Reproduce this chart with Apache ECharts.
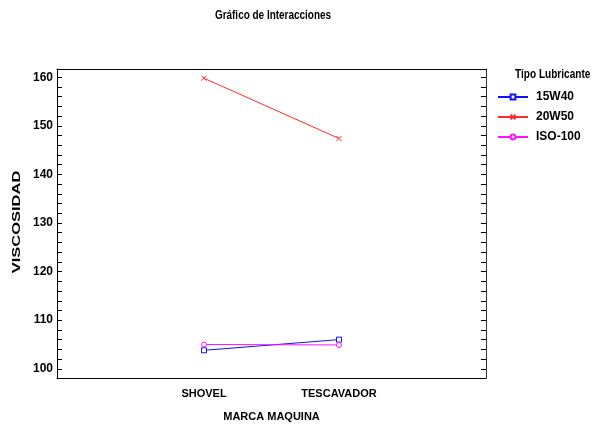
<!DOCTYPE html>
<html><head><meta charset="utf-8">
<script src="https://cdn.jsdelivr.net/npm/echarts@6/dist/echarts.min.js"></script>
<style>html,body{margin:0;padding:0;background:#fff}#c{width:592px;height:426px}</style>
</head><body><div id="c"></div>
<script>
var categories = ['SHOVEL', 'TESCAVADOR'];
var seriesNames = ['15W40', '20W50', 'ISO-100'];
var s15W40 = [103.8, 106.0];
var s20W50 = [159.8, 147.4];
var sISO100 = [105.0, 104.9];
var yTickLabels = [100, 110, 120, 130, 140, 150, 160];
var yAllTicks = [100, 102, 104, 106, 108, 110, 112, 114, 116, 118, 120, 122, 124, 126, 128, 130, 132, 134, 136, 138, 140, 142, 144, 146, 148, 150, 152, 154, 156, 158, 160];
var colors = ['#1010ff', '#ff2a2a', '#ff10ff'];
var FONT = '"Liberation Sans", Arial, sans-serif';

var xPos = categories.map(function(c, i){ return i + 1; });
function pts(arr){ return arr.map(function(v, i){ return [xPos[i], v]; }); }

var YMIN = 98.1, YMAX = 161.7;
var yAxes = [
  {type:'value', position:'left', min:YMIN, max:YMAX,
   axisLine:{show:true, onZero:false, lineStyle:{color:'#000', width:1}}, splitLine:{show:false},
   axisTick:{show:true, inside:true, length:5, customValues:yAllTicks, lineStyle:{color:'#000'}},
   axisLabel:{show:true, customValues:yTickLabels, color:'#000', fontFamily:FONT, fontWeight:'bold', fontSize:12, margin:4}},
  {type:'value', position:'right', min:YMIN, max:YMAX,
   axisLine:{show:true, onZero:false, lineStyle:{color:'#333', width:1}}, splitLine:{show:false},
   axisTick:{show:true, inside:true, length:5, customValues:yAllTicks, lineStyle:{color:'#000'}},
   axisLabel:{show:false}}
];

var markerX = 'path://M0,0L10,10M10,0L0,10';
var symbols = ['rect', markerX, 'circle'];
var datas = [s15W40, s20W50, sISO100];

var option = {
  animation:false,
  backgroundColor:'#fff',
  legend:{orient:'vertical', left:497, top:90, padding:0, itemGap:6, itemWidth:30, itemHeight:6,
    data:seriesNames, textStyle:{fontFamily:FONT, fontWeight:'bold', fontSize:12, color:'#000', lineHeight:14, padding:[0,0,0,3]}},
  graphic:[
    {type:'text', x:273, y:16, scaleX:0.83, style:{text:'Gráfico de Interacciones', font:'bold 12px ' + FONT, fill:'#000', align:'center', verticalAlign:'middle'}},
    {type:'text', x:515, y:75, scaleX:0.84, style:{text:'Tipo Lubricante', font:'bold 12px ' + FONT, fill:'#000', align:'left', verticalAlign:'middle'}},
    {type:'text', x:17, y:222, rotation:Math.PI/2, scaleX:1.5, style:{text:'VISCOSIDAD', font:'bold 11px ' + FONT, fill:'#000', align:'center', verticalAlign:'middle'}}
  ],
  grid:{left:57, right:106, top:69, bottom:48, containLabel:false, outerBoundsMode:'none'},
  xAxis:[
    {type:'value', min:-0.089, max:3.089, position:'bottom',
     axisLine:{show:true, onZero:false, lineStyle:{color:'#000', width:1}},
     axisTick:{show:false}, splitLine:{show:false},
     axisLabel:{show:true, customValues:xPos, formatter:function(v){ return categories[Math.round(v) - 1] || ''; },
       color:'#000', fontFamily:FONT, fontWeight:'bold', fontSize:11, margin:10},
     name:'MARCA MAQUINA', nameLocation:'middle', nameGap:33,
     nameTextStyle:{color:'#000', fontFamily:FONT, fontWeight:'bold', fontSize:11}},
    {type:'value', min:-0.089, max:3.089, position:'top',
     axisLine:{show:true, onZero:false, lineStyle:{color:'#000', width:1}},
     axisTick:{show:false}, axisLabel:{show:false}, splitLine:{show:false}}
  ],
  yAxis:yAxes,
  series:seriesNames.map(function(n, i){
    return {name:n, type:'line', data:pts(datas[i]), xAxisIndex:0, yAxisIndex:0,
      symbol:symbols[i], symbolSize:5, showSymbol:true,
      itemStyle:{color:'#fff', borderColor:colors[i], borderWidth:1},
      lineStyle:{color:colors[i], width:1}, color:colors[i]};
  })
};
var chart = echarts.init(document.getElementById('c'), null, {renderer:'canvas'});
chart.setOption(option);
</script></body></html>
